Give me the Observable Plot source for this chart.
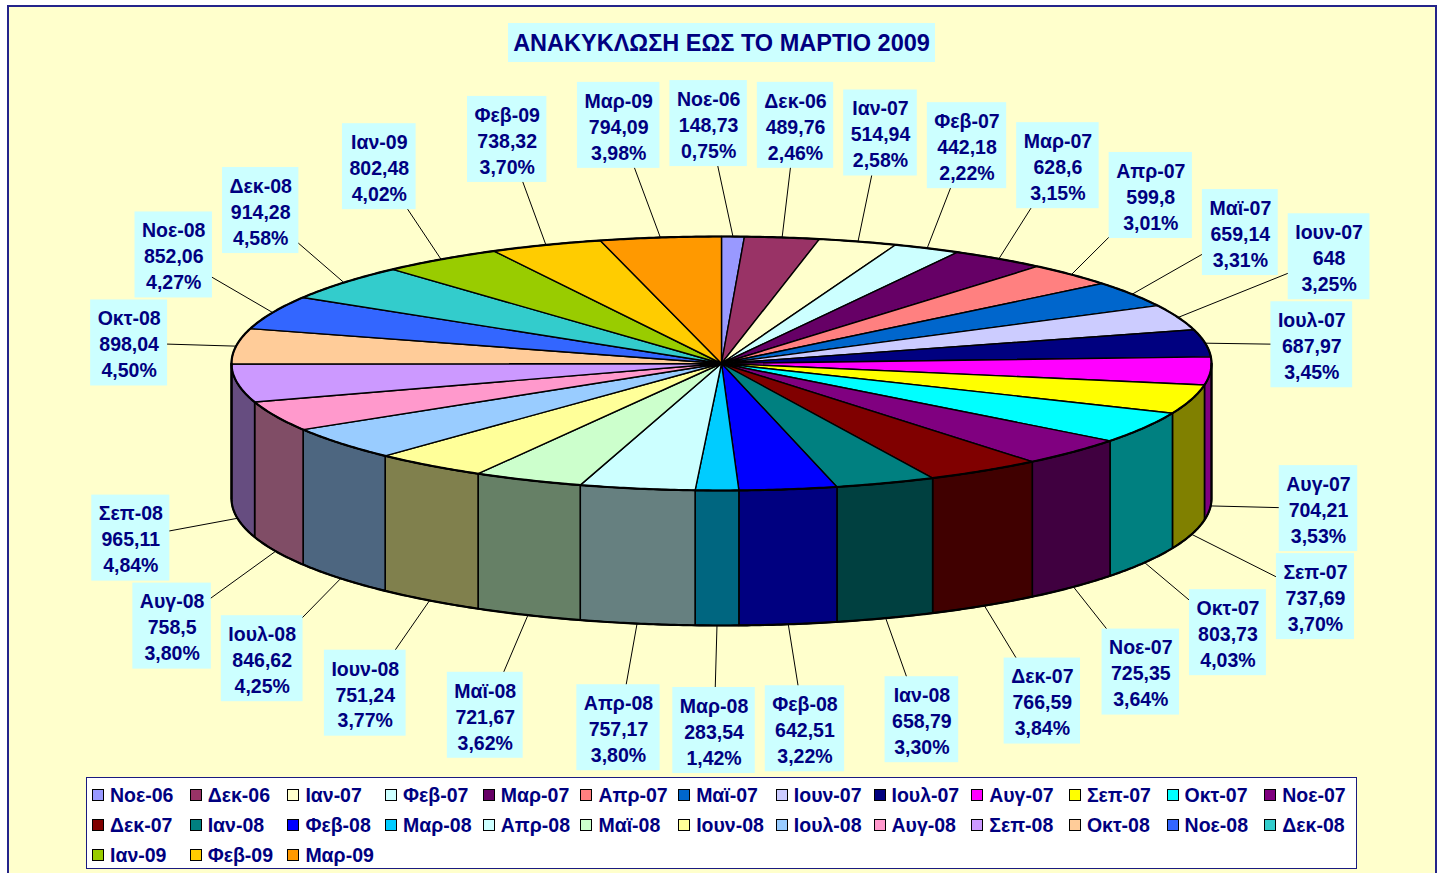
<!DOCTYPE html>
<html>
<head>
<meta charset="utf-8">
<script src="https://cdn.jsdelivr.net/npm/d3@7"></script>
<script src="https://cdn.jsdelivr.net/npm/@observablehq/plot@0.6"></script>
<style>
  body { margin: 0; background: #ffffff; font-family: "Liberation Sans", Arial, sans-serif; }
  #page { position: relative; width: 1445px; height: 873px; overflow: hidden; }
  #frame { position: absolute; left: 7px; top: 5px; width: 1430px; height: 880px; border: 2px solid #24248a; background: #FFFFCC; box-sizing: border-box; }
  #chart { position: absolute; left: 0; top: 0; }
  #title { position: absolute; left: 508px; top: 23px; width: 427px; height: 39px; background: #CCFFFF; color: #000080;
           font-weight: bold; font-size: 23.5px; line-height: 40px; text-align: center; white-space: nowrap; }
  #legend { position: absolute; left: 86px; top: 777px; width: 1271px; height: 92px; background: #ffffff;
            border: 1.5px solid #1a1a80; box-sizing: border-box; }
  #legendItems { position: absolute; left: 92px; top: 780px; display: grid; grid-template-columns: repeat(13, 97.7px); grid-auto-rows: 30px; }
  .item { height: 30px; display: flex; align-items: center; color: #000080; font-weight: bold; font-size: 19.5px; white-space: nowrap; }
  .sw { width: 10px; height: 10px; border: 1.5px solid #000; margin-right: 6px; flex: none; }
</style>
</head>
<body>
<div id="page">
  <div id="frame"></div>
  <div id="chart"></div>
  <div id="title"></div>
  <div id="legend"></div>
  <div id="legendItems"></div>
</div>
<script>
// ---------------- data ----------------
const titleText = "ΑΝΑΚΥΚΛΩΣΗ ΕΩΣ ΤΟ ΜΑΡΤΙΟ 2009";
const months = ["Νοε-06","Δεκ-06","Ιαν-07","Φεβ-07","Μαρ-07","Απρ-07","Μαϊ-07","Ιουν-07","Ιουλ-07","Αυγ-07",
                "Σεπ-07","Οκτ-07","Νοε-07","Δεκ-07","Ιαν-08","Φεβ-08","Μαρ-08","Απρ-08","Μαϊ-08","Ιουν-08",
                "Ιουλ-08","Αυγ-08","Σεπ-08","Οκτ-08","Νοε-08","Δεκ-08","Ιαν-09","Φεβ-09","Μαρ-09"];
const values = [148.73,489.76,514.94,442.18,628.6,599.8,659.14,648,687.97,704.21,
                737.69,803.73,725.35,766.59,658.79,642.51,283.54,757.17,721.67,751.24,
                846.62,758.5,965.11,898.04,852.06,914.28,802.48,738.32,794.09];
const colors = ["#9999FF","#993366","#FFFFCC","#CCFFFF","#660066","#FF8080","#0066CC","#CCCCFF","#000080","#FF00FF",
                "#FFFF00","#00FFFF","#800080","#800000","#008080","#0000FF","#00CCFF","#CCFFFF","#CCFFCC","#FFFF99",
                "#99CCFF","#FF99CC","#CC99FF","#FFCC99","#3366FF","#33CCCC","#99CC00","#FFCC00","#FF9900"];

// ---------------- layout constants ----------------
const W = 1445, H = 775;
const CX = 721, CY = 363, RX = 490, RY = 127;   // pie ellipse (px)
const DEPTH_PX = 135;
const D = DEPTH_PX / RY;                         // depth in y data units
const LRX = 598, LRY_BACK = 240, LRY_FRONT = 232, FRONT_POW = 0.8; // label placement ellipse (px)
const FONT = 19.5, LINE_H = 26, BOX_H = 86, PADX = 7;
const TXT = "#000080";

document.getElementById("title").textContent = titleText;

const sx = Plot.scale({x: {domain: [-1, 1], range: [CX - RX, CX + RX]}});
const sy = Plot.scale({y: {domain: [-1, 1], range: [CY + RY, CY - RY]}});

const fmt = v => String(v).replace(".", ",");
const total = d3.sum(values);
const shade = c => { const r = d3.rgb(c); return d3.rgb(r.r * 0.5, r.g * 0.5, r.b * 0.5).formatHex(); };

let acc = 0;
const slices = months.map((m, i) => {
  const a0 = acc / total * 2 * Math.PI; acc += values[i];
  const a1 = acc / total * 2 * Math.PI;
  return {i, m, v: values[i], a0, a1, mid: (a0 + a1) / 2, color: colors[i], side: shade(colors[i]),
          pct: (values[i] / total * 100).toFixed(2).replace(".", ",") + "%"};
});

const step = Math.PI / 360;
const arcPts = (a0, a1) => { const n = Math.max(2, Math.ceil((a1 - a0) / step) + 1); return d3.range(n).map(k => a0 + (a1 - a0) * k / (n - 1)); };

const tops = [], sides = [];
slices.forEach(s => {
  tops.push({id: s.i, x: 0, y: 0, fill: s.color});
  arcPts(s.a0, s.a1).forEach(a => tops.push({id: s.i, x: Math.sin(a), y: Math.cos(a), fill: s.color}));
  tops.push({id: s.i, x: 0, y: 0, fill: s.color});
  const b0 = Math.max(s.a0, Math.PI / 2), b1 = Math.min(s.a1, 3 * Math.PI / 2);
  if (b1 > b0) {
    const pts = arcPts(b0, b1);
    pts.forEach(a => sides.push({id: s.i, x: Math.sin(a), y: Math.cos(a), fill: s.side}));
    pts.slice().reverse().forEach(a => sides.push({id: s.i, x: Math.sin(a), y: Math.cos(a) - D, fill: s.side}));
    sides.push({id: s.i, x: Math.sin(b0), y: Math.cos(b0), fill: s.side});
  }
});

const outlineTop = arcPts(0, 2 * Math.PI).map(a => ({x: Math.sin(a), y: Math.cos(a)}));
const outlineFront = [{x: 1, y: 0}, ...arcPts(Math.PI / 2, 3 * Math.PI / 2).map(a => ({x: Math.sin(a), y: Math.cos(a) - D})), {x: -1, y: 0}];

// ---------------- labels ----------------
const ctx = document.createElement("canvas").getContext("2d");
ctx.font = `bold ${FONT}px "Liberation Sans", Arial`;
const labels = slices.map(s => {
  const c = Math.cos(s.mid);
  const front = c < 0;
  const lines = [s.m, fmt(s.v), s.pct];
  const w = d3.max(lines, t => ctx.measureText(t).width) + 2 * PADX;
  const px = CX + LRX * Math.sin(s.mid);
  const py = front ? CY + DEPTH_PX + LRY_FRONT * Math.pow(-c, FRONT_POW) : CY - LRY_BACK * c;
  return {s, text: lines.join("\n"), w, h: BOX_H, px, py, front,
          ex: Math.sin(s.mid), ey: front ? c - D : c};
});
// simple collision relaxation
for (let it = 0; it < 400; it++) {
  let moved = false;
  for (let i = 0; i < labels.length; i++) for (let j = i + 1; j < labels.length; j++) {
    const A = labels[i], B = labels[j];
    const dx = B.px - A.px, dy = B.py - A.py;
    const ox = (A.w + B.w) / 2 + 10 - Math.abs(dx), oy = (A.h + B.h) / 2 + 2 - Math.abs(dy);
    if (ox > 0 && oy > 0) {
      moved = true;
      if (ox < oy) { const g = dx >= 0 ? 1 : -1; A.px -= g * ox / 2; B.px += g * ox / 2; }
      else { const g = dy >= 0 ? 1 : -1; A.py -= g * oy / 2; B.py += g * oy / 2; }
    }
  }
  if (!moved) break;
}
labels.forEach(L => {
  L.x = sx.invert(L.px); L.y = sy.invert(L.py);
  L.x1 = sx.invert(L.px - L.w / 2); L.x2 = sx.invert(L.px + L.w / 2);
  L.y1 = sy.invert(L.py - L.h / 2); L.y2 = sy.invert(L.py + L.h / 2);
});

// ---------------- plot ----------------
const chart = Plot.plot({
  width: W, height: H, margin: 0,
  x: {domain: [-1, 1], range: [CX - RX, CX + RX], axis: null},
  y: {domain: [-1, 1], range: [CY + RY, CY - RY], axis: null},
  color: {type: "identity"},
  style: {background: "transparent", overflow: "visible"},
  marks: [
    Plot.link(labels, {x1: "ex", y1: "ey", x2: "x", y2: "y", stroke: "#000", strokeWidth: 1}),
    Plot.line(sides, {x: "x", y: "y", z: "id", fill: "fill", stroke: "#000", strokeWidth: 1.6, curve: "linear", strokeLinejoin: "round"}),
    Plot.line(tops, {x: "x", y: "y", z: "id", fill: "fill", stroke: "#000", strokeWidth: 1.4, curve: "linear", strokeLinejoin: "round"}),
    Plot.line(outlineTop, {x: "x", y: "y", stroke: "#000", strokeWidth: 2.2}),
    Plot.line(outlineFront, {x: "x", y: "y", stroke: "#000", strokeWidth: 2.2}),
    Plot.rect(labels, {x1: "x1", x2: "x2", y1: "y1", y2: "y2", fill: "#CCFFFF"}),
    Plot.text(labels, {x: "x", y: "y", text: "text", fill: TXT, fontSize: FONT, fontWeight: "bold",
                       fontFamily: "Liberation Sans, Arial, sans-serif", lineHeight: LINE_H / FONT})
  ]
});
document.getElementById("chart").appendChild(chart);

// ---------------- legend ----------------
const lg = d3.select("#legendItems");
slices.forEach(s => {
  const it = lg.append("div").attr("class", "item");
  it.append("div").attr("class", "sw").style("background", s.color);
  it.append("span").text(s.m);
});
</script>
</body>
</html>
